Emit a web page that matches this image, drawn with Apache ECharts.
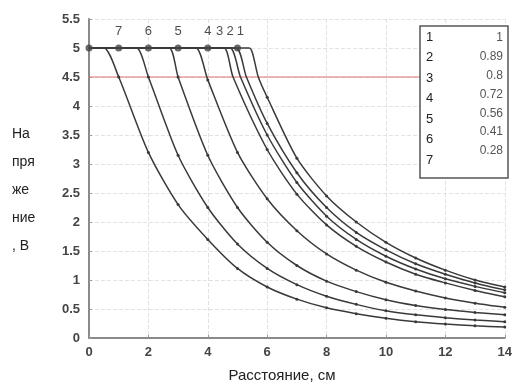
<!DOCTYPE html>
<html>
<head>
<meta charset="utf-8">
<script src="https://cdn.jsdelivr.net/npm/echarts@6/dist/echarts.min.js"></script>
<style>html,body{margin:0;padding:0;background:#fff}#c{width:515px;height:385px}</style>
</head>
<body>
<div id="c"></div>
<script>
// Curves (x, y); curve 1 is rightmost
const xC1 = [0,1,2,3,4,5,5.4,5.7,6,7,8,9,10,11,12,13,14];
const yC1 = [5,5,5,5,5,5,5,4.5,4.15,3.1,2.45,2.0,1.65,1.38,1.17,1.0,0.88];
const xC2 = [0,1,2,3,4,4.95,5.3,6,7,8,9,10,11,12,13,14];
const yC2 = [5,5,5,5,5,5,4.5,3.7,2.85,2.25,1.82,1.52,1.28,1.1,0.95,0.83];
const xC3 = [0,1,2,3,4,4.75,5.1,6,7,8,9,10,11,12,13,14];
const yC3 = [5,5,5,5,5,5,4.5,3.5,2.68,2.1,1.7,1.41,1.19,1.02,0.89,0.78];
const xC4 = [0,1,2,3,4,4.55,4.85,6,7,8,9,10,11,12,13,14];
const yC4 = [5,5,5,5,5,5,4.5,3.25,2.48,1.95,1.58,1.31,1.1,0.95,0.82,0.71];
const xC5 = [0,1,2,3,3.6,4,5,6,7,8,9,10,11,12,13,14];
const yC5 = [5,5,5,5,5,4.45,3.2,2.4,1.85,1.45,1.17,0.96,0.81,0.69,0.6,0.53];
const xC6 = [0,1,2,2.7,3,4,5,6,7,8,9,10,11,12,13,14];
const yC6 = [5,5,5,5,4.5,3.15,2.25,1.65,1.25,0.98,0.8,0.66,0.56,0.49,0.44,0.4];
const xC7 = [0,1,1.6,2,3,4,5,6,7,8,9,10,11,12,13,14];
const yC7 = [5,5,5,4.5,3.15,2.25,1.62,1.2,0.92,0.72,0.58,0.47,0.4,0.35,0.31,0.28];
const xC8 = [0,0.5,1,2,3,4,5,6,7,8,9,10,11,12,13,14];
const yC8 = [5,5,4.5,3.2,2.3,1.7,1.2,0.88,0.67,0.52,0.42,0.34,0.28,0.24,0.21,0.19];

const refLevel = 4.5;
const topDotsX = [0,1,2,3,4,5];
const topDotsY = [5,5,5,5,5,5];
const topLabels = ['7','6','5','4','3','2','1'];
const topLabelX = [1,2,3,4,4.4,4.75,5.1];
const topLabelY = 5.28;

const legendIds = ['1','2','3','4','5','6','7'];
const legendValues = ['1','0.89','0.8','0.72','0.56','0.41','0.28'];

const yNameLines = ['На','пря','же','ние',', В'];
const xName = 'Расстояние, см';

const curves = [[xC1,yC1],[xC2,yC2],[xC3,yC3],[xC4,yC4],[xC5,yC5],[xC6,yC6],[xC7,yC7],[xC8,yC8]];

const FONT = 'Liberation Sans, Arial, sans-serif';

function buildCurve(xs, ys){
  let knee = 0;
  for (let i=0;i<xs.length;i++) if (ys[i] >= 5) knee = xs[i];
  return xs.map((x,i)=>{
    const isMark = Number.isInteger(x) && x > knee;
    return {value:[x, ys[i]], symbol: isMark ? 'circle' : 'none'};
  });
}

const series = curves.map((c, i) => ({
  type: 'line',
  name: 'c' + (i+1),
  data: buildCurve(c[0], c[1]),
  smooth: 0.25,
  symbolSize: 3,
  lineStyle: {color: '#3a3a3a', width: 1.5},
  itemStyle: {color: '#3a3a3a'},
  z: 3
}));

series.push({
  type: 'line', name: 'ref', data: [[0, refLevel],[14, refLevel]],
  symbol: 'none', lineStyle: {color: '#e07575', width: 1.2}, z: 2
});
series.push({
  type: 'scatter', name: 'topdots',
  data: topDotsX.map((x,i)=>[x, topDotsY[i]]),
  symbolSize: 7, itemStyle: {color: '#444'}, z: 4
});
series.push({
  type: 'scatter', name: 'toplabels',
  data: topLabelX.map((x,i)=>({value:[x, topLabelY], name: topLabels[i]})),
  symbolSize: 0,
  label: {show: true, position: 'inside', formatter: p => p.name, color: '#222', fontSize: 13, fontFamily: FONT},
  z: 5
});

const legendChildren = [{
  type: 'rect', z: 100, shape: {x: 420, y: 26, width: 88, height: 152},
  style: {fill: '#fff', stroke: '#555', lineWidth: 1.5}
}];
legendIds.forEach((t,i)=>{
  legendChildren.push({type:'text', z: 101, x: 426, y: 37 + i*20.5,
    style:{text:t, fill:'#222', font:'13px ' + FONT, textVerticalAlign:'middle'}});
});
legendValues.forEach((t,i)=>{
  legendChildren.push({type:'text', z: 101, x: 503, y: 38 + i*18.8,
    style:{text:t, fill:'#555', font:'12px ' + FONT, textAlign:'right', textVerticalAlign:'middle'}});
});

const chart = echarts.init(document.getElementById('c'), null, {renderer: 'canvas'});
chart.setOption({
  animation: false,
  backgroundColor: '#fff',
  grid: {left: 89, right: 4, top: 19, bottom: 47},
  xAxis: {
    type: 'value', min: 0, max: 14, interval: 2,
    axisLine: {show: true, lineStyle: {color: '#8a8a8a', width: 2}},
    axisTick: {show: true, inside: true, length: 3, lineStyle: {color: '#999'}},
    axisLabel: {color: '#444', fontSize: 13, fontWeight: 'bold', fontFamily: FONT, margin: 8},
    splitLine: {show: true, lineStyle: {color: '#e2e2e2', type: 'dashed'}}
  },
  yAxis: {
    type: 'value', min: 0, max: 5.5, interval: 0.5,
    axisLine: {show: true, lineStyle: {color: '#8a8a8a', width: 2}},
    axisTick: {show: true, inside: true, length: 3, lineStyle: {color: '#999'}},
    axisLabel: {color: '#444', fontSize: 13, fontWeight: 'bold', fontFamily: FONT, margin: 9},
    splitLine: {show: true, lineStyle: {color: '#e2e2e2', type: 'dashed'}}
  },
  graphic: [
    {type: 'text', x: 12, y: 120, z: 100,
     style: {text: yNameLines.join('\n'), fill: '#222', font: '14px ' + FONT, lineHeight: 28}},
    {type: 'text', x: 282, y: 376, z: 100,
     style: {text: xName, fill: '#222', font: '15px ' + FONT, textAlign: 'center', textVerticalAlign: 'middle'}},
    {type: 'group', z: 100, children: legendChildren}
  ],
  series: series
});
</script>
</body>
</html>
